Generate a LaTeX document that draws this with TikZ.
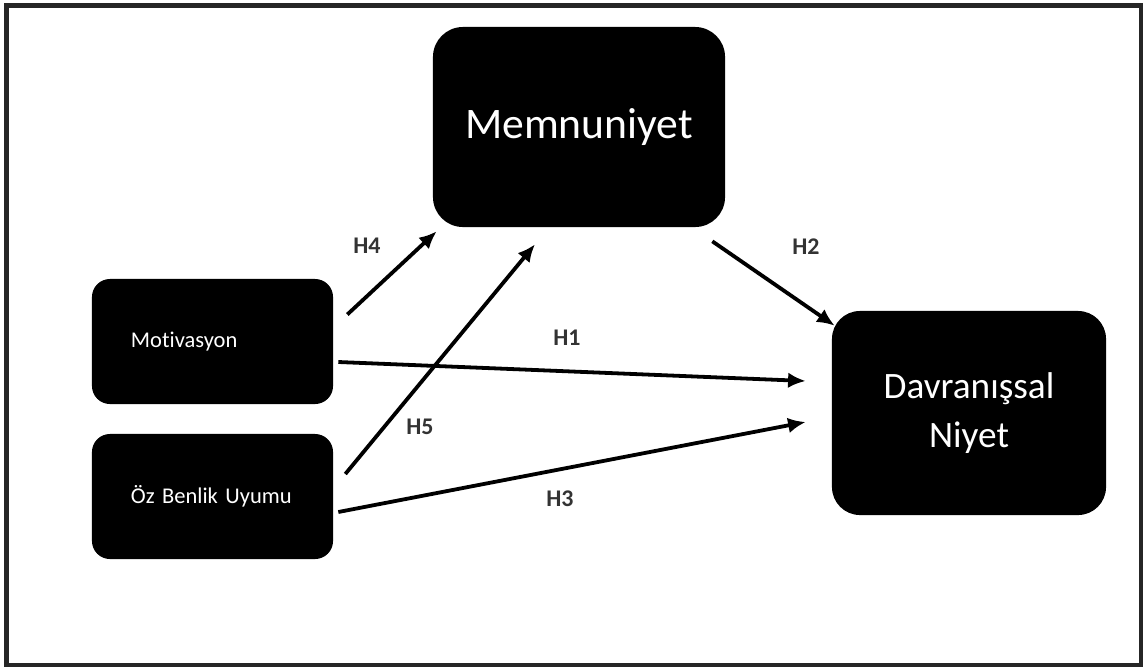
\documentclass[tikz,border=0pt]{standalone}
\usepackage{fontspec}
\setmainfont{Carlito}[Ligatures=CommonOff]
\usetikzlibrary{arrows.meta}

\begin{document}
\begin{tikzpicture}[x=0.025cm, y=-0.025cm,
    box/.style = {fill=black, text=white, inner sep=0pt},
    side/.style = {box, rounded corners=0.45cm, minimum height=3.125cm, text width=4.075cm, inner xsep=0.975cm, align=left, font=\fontsize{16}{19}\selectfont},
    arr/.style = {-{Latex[length=4.4mm,width=3.9mm]}, line width=2.7pt},
    hyp/.style = {font=\fontsize{17}{20}\selectfont\bfseries, text=black!80}]
    \useasboundingbox (0,0) rectangle (1144,666);
    \draw[line width=0.11cm, black!85] (6.5,5.5) rectangle (1141,665);

    \node[box, rounded corners=0.75cm, minimum width=7.3cm, minimum height=5cm, font=\fontsize{31}{36}\selectfont] (mem) at (579,127) {Memnuniyet};
    \node[side] (mot) at (212.5,341.5) {Motivasyon};
    \node[side] (oz) at (212.5,496.5) {Öz Benlik Uyumu};
    \node[box, rounded corners=0.7cm, minimum width=6.85cm, minimum height=5.1cm, align=center, font=\fontsize{26.5}{35}\selectfont] (dav) at (969,413) {Davranışsal\\Niyet};

    \node[hyp] (h1) at (567,338) {H1};
    \node[hyp] (h2) at (806,247) {H2};
    \node[hyp] (h3) at (560,499) {H3};
    \node[hyp] (h4) at (367,246) {H4};
    \node[hyp] (h5) at (420,427) {H5};

    \draw[arr] ([shift={(14,-27)}]mot.east) -- ([shift={(4,4)}]mem.south west);
    \draw[arr] ([shift={(12,-22.5)}]oz.east) -- ([shift={(-44,17)}]mem.south);
    \draw[arr] ([shift={(-13,14)}]mem.south east) -- ([shift={(3,15)}]dav.north west);
    \draw[arr] ([shift={(5,20.5)}]mot.east) -- ([shift={(-26,-32)}]dav.west);
    \draw[arr] ([shift={(5,15.5)}]oz.east) -- ([shift={(-26,9)}]dav.west);
\end{tikzpicture}
\end{document}
